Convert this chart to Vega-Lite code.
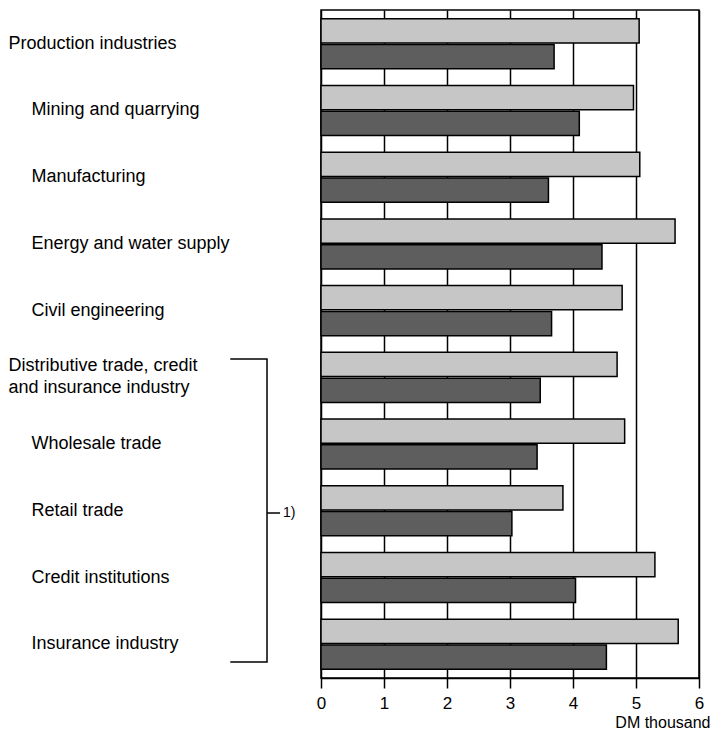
{
  "$schema": "https://vega.github.io/schema/vega-lite/v6.json",
  "autosize": "none",
  "width": 378,
  "height": 668,
  "padding": {"left": 321, "top": 10, "right": 12, "bottom": 52},
  "background": "white",
  "config": {
    "font": "Liberation Sans",
    "view": {"stroke": "black", "strokeWidth": 1.5}
  },
  "datasets": {
    "bars": [
      {"category": "Production industries", "series": "A", "value": 5.05},
      {"category": "Production industries", "series": "B", "value": 3.70},
      {"category": "Mining and quarrying", "series": "A", "value": 4.96},
      {"category": "Mining and quarrying", "series": "B", "value": 4.10},
      {"category": "Manufacturing", "series": "A", "value": 5.06},
      {"category": "Manufacturing", "series": "B", "value": 3.61},
      {"category": "Energy and water supply", "series": "A", "value": 5.62},
      {"category": "Energy and water supply", "series": "B", "value": 4.46},
      {"category": "Civil engineering", "series": "A", "value": 4.78},
      {"category": "Civil engineering", "series": "B", "value": 3.66},
      {"category": "Distributive trade, credit and insurance industry", "series": "A", "value": 4.70},
      {"category": "Distributive trade, credit and insurance industry", "series": "B", "value": 3.48},
      {"category": "Wholesale trade", "series": "A", "value": 4.82},
      {"category": "Wholesale trade", "series": "B", "value": 3.43},
      {"category": "Retail trade", "series": "A", "value": 3.84},
      {"category": "Retail trade", "series": "B", "value": 3.03},
      {"category": "Credit institutions", "series": "A", "value": 5.30},
      {"category": "Credit institutions", "series": "B", "value": 4.04},
      {"category": "Insurance industry", "series": "A", "value": 5.67},
      {"category": "Insurance industry", "series": "B", "value": 4.53}
    ],
    "bracket": [
      {"bx": -1.44, "t": 5.225, "o": 1},
      {"bx": -0.857, "t": 5.225, "o": 2},
      {"bx": -0.857, "t": 9.76, "o": 3},
      {"bx": -1.44, "t": 9.76, "o": 4}
    ],
    "note": [
      {"bx": -0.857, "bx2": -0.65, "t": 7.53, "label": "1)"}
    ]
  },
  "layer": [
    {
      "data": {"name": "bars"},
      "mark": {"type": "bar", "stroke": "black", "strokeWidth": 1.5},
      "encoding": {
        "y": {
          "field": "category",
          "type": "nominal",
          "sort": null,
          "scale": {"paddingInner": 0.25, "paddingOuter": 0.13},
          "axis": {
            "title": null,
            "domain": false,
            "ticks": false,
            "tickSize": 0,
            "labelAlign": "left",
            "labelBaseline": "middle",
            "labelFontSize": 18,
            "labelColor": "black",
            "labelLimit": 400,
            "labelLineHeight": 22,
            "labelOffset": {"expr": "datum.value == 'Distributive trade, credit and insurance industry' ? -11 : 0"},
            "labelPadding": {"expr": "indexof(['Production industries','Distributive trade, credit and insurance industry'], datum.value) >= 0 ? 313 : 290"},
            "labelExpr": "datum.value == 'Distributive trade, credit and insurance industry' ? ['Distributive trade, credit', 'and insurance industry'] : datum.label"
          }
        },
        "yOffset": {
          "field": "series",
          "type": "nominal",
          "scale": {"paddingInner": 0.06, "paddingOuter": 0}
        },
        "x": {
          "field": "value",
          "type": "quantitative",
          "scale": {"domain": [0, 6], "nice": false, "zero": true},
          "axis": {
            "values": [0, 1, 2, 3, 4, 5, 6],
            "format": "d",
            "grid": true,
            "gridColor": "black",
            "gridWidth": 1.5,
            "gridOpacity": 1,
            "domain": true,
            "domainColor": "black",
            "domainWidth": 1.5,
            "ticks": true,
            "tickSize": 10,
            "tickColor": "black",
            "tickWidth": 1.5,
            "labelFontSize": 17,
            "labelColor": "black",
            "labelPadding": 7,
            "labelFlush": false,
            "title": "DM thousand",
            "titleFontSize": 16,
            "titleFontWeight": "normal",
            "titleColor": "black",
            "titleAnchor": "end",
            "titleAlign": "right",
            "titleBaseline": "alphabetic",
            "titleX": 389,
            "titleY": 49
          }
        },
        "fill": {
          "field": "series",
          "type": "nominal",
          "scale": {"domain": ["A", "B"], "range": ["#c6c6c6", "#5e5e5e"]},
          "legend": null
        }
      }
    },
    {
      "data": {"name": "bracket"},
      "mark": {"type": "line", "stroke": "black", "strokeWidth": 1.5, "clip": false},
      "encoding": {
        "x": {"field": "bx", "type": "quantitative"},
        "y": {"field": "t", "type": "quantitative", "scale": {"domain": [0, 10], "reverse": true, "nice": false, "zero": false}, "axis": null},
        "order": {"field": "o"}
      }
    },
    {
      "data": {"name": "note"},
      "mark": {"type": "rule", "stroke": "black", "strokeWidth": 1.5, "clip": false},
      "encoding": {
        "x": {"field": "bx", "type": "quantitative"},
        "x2": {"field": "bx2"},
        "y": {"field": "t", "type": "quantitative", "scale": {"domain": [0, 10], "reverse": true, "nice": false, "zero": false}, "axis": null}
      }
    },
    {
      "data": {"name": "note"},
      "mark": {"type": "text", "align": "left", "baseline": "middle", "fontSize": 14, "color": "black", "dx": 3, "clip": false},
      "encoding": {
        "x": {"field": "bx2", "type": "quantitative"},
        "y": {"field": "t", "type": "quantitative", "scale": {"domain": [0, 10], "reverse": true, "nice": false, "zero": false}, "axis": null},
        "text": {"field": "label"}
      }
    }
  ],
  "resolve": {"scale": {"y": "independent"}}
}
